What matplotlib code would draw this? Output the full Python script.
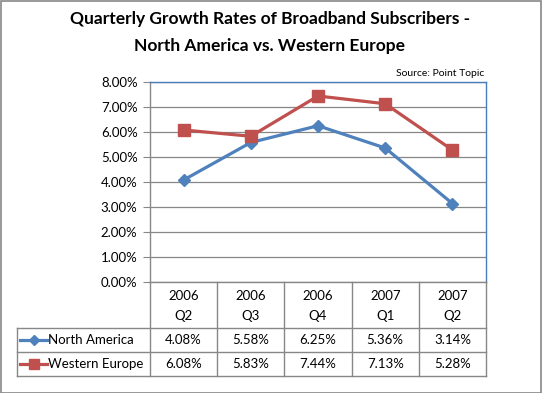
import matplotlib
matplotlib.use("Agg")
import matplotlib.pyplot as plt
from matplotlib.lines import Line2D
from matplotlib.patches import Rectangle

categories = ["2006\nQ2", "2006\nQ3", "2006\nQ4", "2007\nQ1", "2007\nQ2"]
north_america = [4.08, 5.58, 6.25, 5.36, 3.14]
western_europe = [6.08, 5.83, 7.44, 7.13, 5.28]
series_names = ["North America", "Western Europe"]
yticks = [0, 1, 2, 3, 4, 5, 6, 7, 8]

W, H = 542, 393
plt.rcParams['font.family'] = ['Lato', 'DejaVu Sans']
fig = plt.figure(figsize=(W / 100, H / 100), dpi=100)

def fx(px):
    return px / W

def fy(py):
    return 1 - py / H

L, R, T, B = 150, 486, 82, 282
ax = fig.add_axes([fx(L), fy(B), fx(R) - fx(L), fy(T) - fy(B)])
x = list(range(len(categories)))
c_na = '#4F81BD'
c_we = '#C0504D'
ax.plot(x, north_america, color=c_na, lw=2.3, marker='D', ms=6, zorder=3)
ax.plot(x, western_europe, color=c_we, lw=2.3, marker='s', ms=8, zorder=3)
ax.set_xlim(-0.5, len(categories) - 0.5)
ax.set_ylim(0, 8)
ax.set_yticks(yticks)
ax.set_yticklabels([f"{v:.2f}%" for v in yticks], fontsize=9.5)
ax.set_xticks([])
ax.grid(axis='y', color='#878787', lw=0.9, zorder=0)
ax.tick_params(axis='y', length=5, color='#878787', pad=4)
for s in ['top', 'right']:
    ax.spines[s].set_color('#4A7EBB')
    ax.spines[s].set_linewidth(1.0)
for s in ['left', 'bottom']:
    ax.spines[s].set_color('#878787')
    ax.spines[s].set_linewidth(1.0)

# Table
gc = '#878787'
col_edges = [L + i * (R - L) / len(categories) for i in range(len(categories) + 1)]
row_y = [B, 328, 352, 376]
tleft = 17

def hline(y, x0, x1):
    fig.add_artist(Line2D([fx(x0), fx(x1)], [fy(y), fy(y)], color=gc, lw=1.0))

def vline(xp, y0, y1):
    fig.add_artist(Line2D([fx(xp), fx(xp)], [fy(y0), fy(y1)], color=gc, lw=1.0))

for y in row_y[1:]:
    hline(y, tleft, R)
vline(tleft, row_y[1], row_y[3])
for xe in col_edges:
    vline(xe, B, row_y[3])

for i, cat in enumerate(categories):
    cx = (col_edges[i] + col_edges[i + 1]) / 2
    fig.text(fx(cx), fy((row_y[0] + row_y[1]) / 2 + 1), cat, ha='center', va='center',
             fontsize=9.5, linespacing=1.9)
    fig.text(fx(cx), fy((row_y[1] + row_y[2]) / 2), f"{north_america[i]:.2f}%",
             ha='center', va='center', fontsize=9.5)
    fig.text(fx(cx), fy((row_y[2] + row_y[3]) / 2), f"{western_europe[i]:.2f}%",
             ha='center', va='center', fontsize=9.5)

# legend keys
for (name, col, mk, ms, r0, r1) in [(series_names[0], c_na, 'D', 5, row_y[1], row_y[2]),
                                     (series_names[1], c_we, 's', 7, row_y[2], row_y[3])]:
    yc = (r0 + r1) / 2
    fig.add_artist(Line2D([fx(20), fx(47)], [fy(yc), fy(yc)], color=col, lw=2.3,
                          marker=None))
    fig.add_artist(Line2D([fx(33.5)], [fy(yc)], color=col, marker=mk, ms=ms, lw=0))
    fig.text(fx(48), fy(yc), name, ha='left', va='center', fontsize=9.5)

# source
fig.text(fx(484), fy(73), "Source: Point Topic", ha='right', va='center', fontsize=7.5)

# title
fig.text(fx(270), fy(19), "Quarterly Growth Rates of Broadband Subscribers -",
         ha='center', va='center', fontsize=12.5, fontweight='bold')
fig.text(fx(270), fy(46), "North America vs. Western Europe",
         ha='center', va='center', fontsize=12.5, fontweight='bold')

# outer border
fig.add_artist(Rectangle((0.5 / W, 0.5 / H), 1 - 1.5 / W, 1 - 1.5 / H, transform=fig.transFigure,
                         fill=False, edgecolor='#878787', lw=1.2))

fig.savefig("out.png", dpi=100)
